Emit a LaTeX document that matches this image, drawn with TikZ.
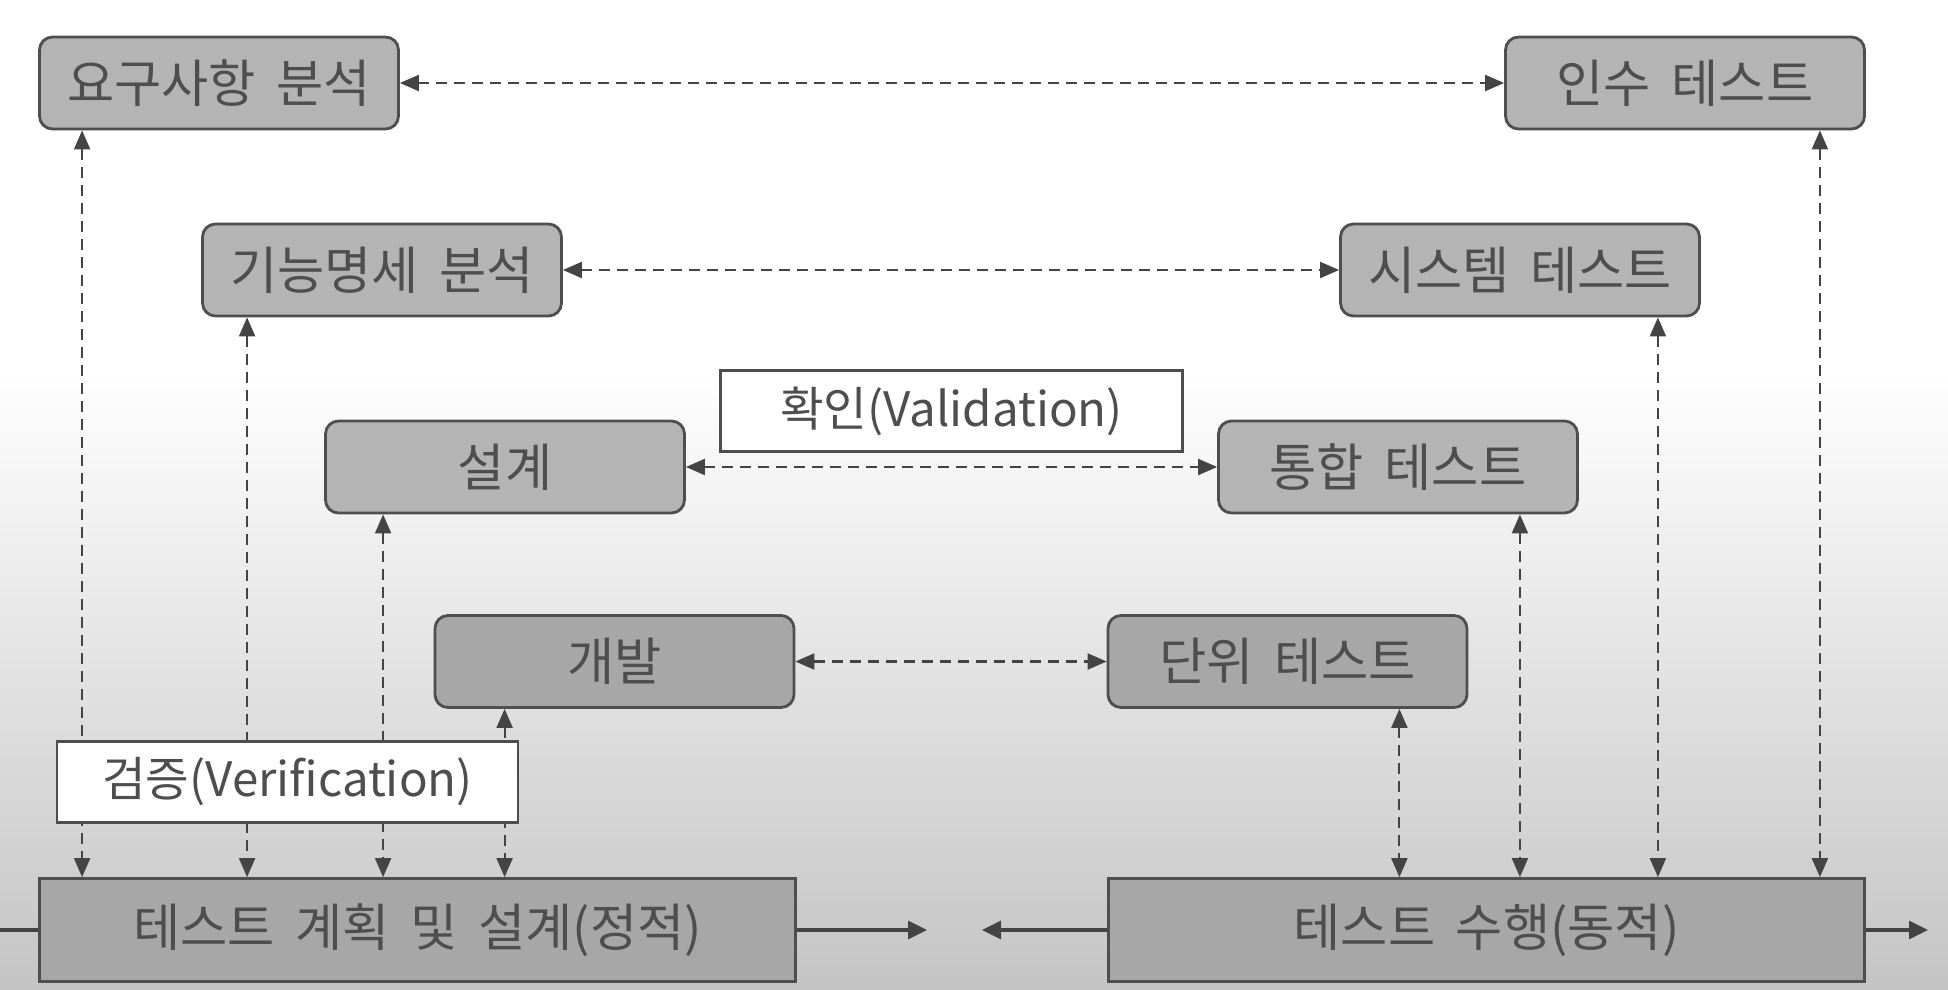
\documentclass[tikz,border=0pt]{standalone}
\usepackage{fontspec}
\setmainfont[WordSpace=1.8]{Noto Sans CJK KR}
\usepackage{tikz}
\usetikzlibrary{arrows.meta, positioning, calc}
\definecolor{boxtop}{HTML}{B4B4B4}
\definecolor{boxlow}{HTML}{A7A7A7}
\definecolor{ink}{HTML}{3A3A3A}
\definecolor{bgbottom}{HTML}{C4C4C4}

\begin{document}
\begin{tikzpicture} [node distance =1.5 cm and 1.5cm ,on grid, font=\fontsize{13.5pt}{16pt}\selectfont,
	phase/.style ={rectangle, rounded corners=0.13cm, draw=ink!90, line width=0.8pt, fill=boxtop, text=ink!90, minimum width=3.59cm, minimum height=0.92cm, inner sep=0pt, font=\fontsize{14.6pt}{17pt}\selectfont},
	stage/.style ={rectangle, draw=ink!90, line width=0.8pt, fill=boxlow, text=ink!90, minimum width=7.56cm, minimum height=1.03cm, inner sep=0pt, font=\fontsize{14.6pt}{17pt}\selectfont},
	tag/.style ={rectangle, draw=ink!90, line width=0.7pt, fill=white, text=ink!90, minimum height=0.81cm, inner sep=0pt},
	dualarrow/.style ={draw=ink!95, line width=0.6pt, dash pattern=on 0.11cm off 0.07cm, {Triangle[length=0.19cm, width=0.16cm]}-{Triangle[length=0.19cm, width=0.16cm]}},
	flow/.style ={draw=ink!95, line width=0.9pt, -{Triangle[length=0.19cm, width=0.18cm]}}]
		% background
		\useasboundingbox (0,0) rectangle (19.48,-9.90);
		\fill[white] (0,0) rectangle (19.48,-3.70);
		\shade[top color=white, bottom color=bgbottom] (0,-3.70) rectangle (19.48,-9.90);
		% left side
		\node[phase] (RA) at (2.19,-0.83) {요구사항 분석};
		\node[phase] (FS) [below right=1.87cm and 1.63cm of RA] {기능명세 분석};
		\node[phase] (DS) [below right=1.97cm and 1.23cm of FS] {설계};
		\node[phase, fill=boxlow] (DV) [below right=1.945cm and 1.095cm of DS] {개발};
		% right side
		\node[phase] (AT) [right=14.66cm of RA] {인수 테스트};
		\node[phase] (ST) [right=11.38cm of FS] {시스템 테스트};
		\node[phase] (IT) [right=8.93cm of DS] {통합 테스트};
		\node[phase, fill=boxlow] (UT) [right=6.73cm of DV] {단위 테스트};
		% bottom
		\node[stage] (Plan) at (4.175,-9.30) {테스트 계획 및 설계(정적)};
		\node[stage] (Exec) [right=10.69cm of Plan] {테스트 수행(동적)};
		\coordinate (edgeL) at (0,-9.30);
		\coordinate (tipL) at (9.27,-9.30);
		\coordinate (tipR) at (9.82,-9.30);
		\coordinate (edgeR) at (19.28,-9.30);
		% validation
		\path (RA) edge[dualarrow] (AT);
		\path (FS) edge[dualarrow] (ST);
		\path (DS) edge[dualarrow] (IT);
		\path (DV) edge[dualarrow] (UT);
		% verification
		\draw[dualarrow] ([xshift=0.44cm]RA.south west) -- ([xshift=0.44cm]RA.south west |- Plan.north);
		\draw[dualarrow] ([xshift=0.46cm]FS.south west) -- ([xshift=0.46cm]FS.south west |- Plan.north);
		\draw[dualarrow] ([xshift=0.59cm]DS.south west) -- ([xshift=0.59cm]DS.south west |- Plan.north);
		\draw[dualarrow] ([xshift=0.71cm]DV.south west) -- ([xshift=0.71cm]DV.south west |- Plan.north);
		\draw[dualarrow] ([xshift=-0.69cm]UT.south east) -- ([xshift=-0.69cm]UT.south east |- Exec.north);
		\draw[dualarrow] ([xshift=-0.59cm]IT.south east) -- ([xshift=-0.59cm]IT.south east |- Exec.north);
		\draw[dualarrow] ([xshift=-0.43cm]ST.south east) -- ([xshift=-0.43cm]ST.south east |- Exec.north);
		\draw[dualarrow] ([xshift=-0.46cm]AT.south east) -- ([xshift=-0.46cm]AT.south east |- Exec.north);
		% flow
		\draw[draw=ink!95, line width=0.9pt] (edgeL) -- (Plan.west);
		\draw[flow] (Plan.east) -- (tipL);
		\draw[flow] (Exec.west) -- (tipR);
		\draw[flow] (Exec.east) -- (edgeR);
		% labels
		\node[tag, minimum width=4.62cm] (VA) at ($(DS)!0.5!(IT)+(0,0.56)$) {확인(Validation)};
		\node[tag, minimum width=4.61cm] (VE) [above left=1.48cm and 1.30cm of Plan] {검증(Verification)};
	\end{tikzpicture}
\end{document}
